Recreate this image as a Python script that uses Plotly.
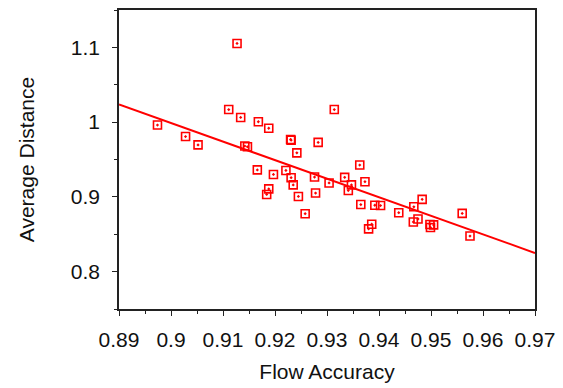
import plotly.graph_objects as go

# Flow accuracy vs. average distance, one point per run
flow_accuracy = [
    0.8974, 0.9028, 0.9052, 0.9111, 0.9127, 0.9134, 0.9142, 0.9147, 0.9168,
    0.9188, 0.9230, 0.9231, 0.9242, 0.9283, 0.9166, 0.9197, 0.9221, 0.9231,
    0.9235, 0.9188, 0.9184, 0.9245, 0.9276, 0.9278, 0.9258, 0.9304, 0.9314,
    0.9363, 0.9334, 0.9347, 0.9341, 0.9373, 0.9365, 0.9392, 0.9403, 0.9380,
    0.9386, 0.9438, 0.9467, 0.9483, 0.9466, 0.9475, 0.9499, 0.9505, 0.9498,
    0.9560, 0.9575,
]
average_distance = [
    0.9961, 0.9807, 0.9695, 1.0168, 1.1052, 1.0062, 0.9680, 0.9670, 1.0005,
    0.9918, 0.9768, 0.9758, 0.9589, 0.9729, 0.9361, 0.9300, 0.9353, 0.9256,
    0.9160, 0.9107, 0.9032, 0.9006, 0.9265, 0.9051, 0.8775, 0.9186, 1.0168,
    0.9426, 0.9261, 0.9160, 0.9085, 0.9203, 0.8897, 0.8888, 0.8884, 0.8572,
    0.8634, 0.8788, 0.8867, 0.8967, 0.8664, 0.8704, 0.8591, 0.8625, 0.8630,
    0.8779, 0.8476,
]

# Trend line: value at each end of the x range
trend_x = [0.89, 0.97]
trend_y = [1.0237, 0.8250]

x_ticks = [0.89, 0.90, 0.91, 0.92, 0.93, 0.94, 0.95, 0.96, 0.97]
x_tick_text = ["0.89", "0.9", "0.91", "0.92", "0.93", "0.94", "0.95", "0.96", "0.97"]
y_ticks = [0.8, 0.9, 1.0, 1.1]
y_tick_text = ["0.8", "0.9", "1", "1.1"]

x_range = [0.89, 0.97]
y_range = [0.75, 1.15]

RED = "#ff0000"
INK = "#111111"
FONT = "Liberation Sans, Arial, Helvetica, sans-serif"

fig = go.Figure()
fig.add_trace(go.Scatter(
    x=trend_x, y=trend_y, mode="lines",
    line=dict(color=RED, width=2), hoverinfo="skip", showlegend=False,
))
fig.add_trace(go.Scatter(
    x=flow_accuracy, y=average_distance, mode="markers",
    marker=dict(symbol="square-open-dot", size=8, color=RED,
                line=dict(color=RED, width=1.6)),
    showlegend=False,
))

axis_common = dict(
    showgrid=False, zeroline=False, showline=True, mirror=True,
    linecolor="#222222", linewidth=1.5,
    ticks="outside", ticklen=5, tickwidth=1.2, tickcolor="#222222",
    tickfont=dict(family=FONT, size=21, color=INK),
)

fig.update_xaxes(
    range=x_range, tickmode="array", tickvals=x_ticks, ticktext=x_tick_text,
    minor=dict(dtick=0.005, ticks="outside", ticklen=3, tickcolor="#222222"),
    title=dict(text="Flow Accuracy", font=dict(family=FONT, size=21, color=INK),
               standoff=14),
    ticklabelstandoff=6,
    **axis_common,
)
fig.update_yaxes(
    range=y_range, tickmode="array", tickvals=y_ticks, ticktext=y_tick_text,
    minor=dict(dtick=0.05, ticks="outside", ticklen=3, tickcolor="#222222"),
    title=dict(text="Average Distance", font=dict(family=FONT, size=21, color=INK),
               standoff=30),
    ticklabelstandoff=8,
    **axis_common,
)

fig.update_layout(
    width=563, height=388,
    margin=dict(l=119, r=26, t=8, b=76),
    paper_bgcolor="white", plot_bgcolor="white",
    font=dict(family=FONT),
)

fig.write_html("out.html")
